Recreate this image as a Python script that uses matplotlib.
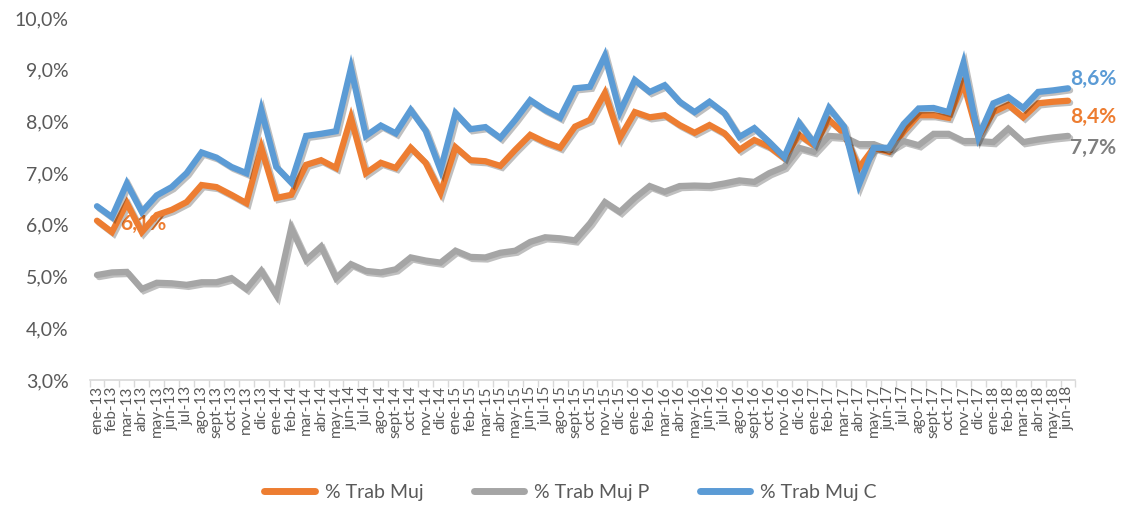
import matplotlib
matplotlib.use("Agg")
import matplotlib.pyplot as plt
import matplotlib.patheffects as pe
import numpy as np

months = ["ene", "feb", "mar", "abr", "may", "jun", "jul", "ago", "sept", "oct", "nov", "dic"]
years = ["13", "14", "15", "16", "17", "18"]
categories = [f"{m}-{y}" for y in years for m in months][:66]

trab_muj = [6.08, 5.86, 6.42, 5.86, 6.19, 6.29, 6.44, 6.77, 6.73, 6.58, 6.42, 7.49,
            6.52, 6.58, 7.16, 7.25, 7.10, 8.07, 7.00, 7.20, 7.10, 7.49, 7.20, 6.62,
            7.50, 7.25, 7.23, 7.14, 7.45, 7.74, 7.60, 7.49, 7.90, 8.03, 8.55, 7.68,
            8.18, 8.08, 8.12, 7.93, 7.78, 7.93, 7.77, 7.45, 7.64, 7.51, 7.29, 7.74,
            7.54, 8.03, 7.77, 7.10, 7.49, 7.41, 7.80, 8.12, 8.12, 8.07, 8.74, 7.70,
            8.18, 8.32, 8.08, 8.35, 8.38, 8.40]

trab_muj_p = [5.03, 5.08, 5.09, 4.76, 4.88, 4.87, 4.84, 4.89, 4.89, 4.97, 4.76, 5.11,
              4.64, 5.94, 5.32, 5.58, 4.97, 5.24, 5.11, 5.08, 5.14, 5.37, 5.31, 5.27,
              5.50, 5.38, 5.37, 5.46, 5.50, 5.67, 5.76, 5.74, 5.70, 6.03, 6.44, 6.25,
              6.52, 6.75, 6.64, 6.75, 6.76, 6.75, 6.80, 6.86, 6.83, 7.00, 7.12, 7.49,
              7.41, 7.72, 7.70, 7.56, 7.56, 7.45, 7.62, 7.54, 7.76, 7.76, 7.62, 7.62,
              7.60, 7.86, 7.60, 7.65, 7.69, 7.72]

trab_muj_c = [6.36, 6.15, 6.80, 6.25, 6.57, 6.73, 7.00, 7.40, 7.30, 7.12, 7.00, 8.22,
              7.12, 6.82, 7.72, 7.76, 7.81, 9.03, 7.72, 7.92, 7.77, 8.22, 7.82, 7.06,
              8.16, 7.85, 7.89, 7.68, 8.03, 8.41, 8.22, 8.07, 8.64, 8.67, 9.27, 8.18,
              8.80, 8.57, 8.70, 8.38, 8.18, 8.38, 8.16, 7.70, 7.87, 7.60, 7.31, 7.97,
              7.58, 8.26, 7.90, 6.77, 7.49, 7.49, 7.95, 8.25, 8.26, 8.18, 9.13, 7.70,
              8.35, 8.47, 8.26, 8.57, 8.60, 8.64]

series_names = ["% Trab Muj", "% Trab Muj P", "% Trab Muj C"]
colors = ["#ED7D31", "#A5A5A5", "#5B9BD5"]
label_colors = ["#ED7D31", "#7F7F7F", "#5B9BD5"]

plt.rcParams['font.family'] = ['Lato', 'DejaVu Sans']

fig = plt.figure(figsize=(11.23, 5.08), dpi=100)
ax = fig.add_axes([0.0797, 0.252, 0.878, 0.7126])

x = np.arange(len(categories))
shadow = [pe.SimpleLineShadow(offset=(1.5, -1.5), shadow_color="#000000", alpha=0.25),
          pe.Normal()]
lines = []
for vals, name, col in zip([trab_muj, trab_muj_p, trab_muj_c], series_names, colors):
    ln, = ax.plot(x, vals, color=col, lw=4.5, label=name, solid_joinstyle="miter",
                  solid_capstyle="round", path_effects=shadow)
    lines.append(ln)

ax.set_xlim(-0.5, len(categories) - 0.5)
ax.set_ylim(3, 10)
yt = np.arange(3, 10.01, 1)
ax.set_yticks(yt)
ax.set_yticklabels([f"{v:.1f}%".replace(".", ",") for v in yt],
                   fontsize=14, color="#595959")
ax.set_xticks(x)
ax.set_xticklabels(categories, rotation=90, fontsize=11, color="#595959")
ax.set_xticks(np.arange(-0.5, len(categories), 1), minor=True)
ax.tick_params(axis="x", which="major", length=0, pad=4)
ax.tick_params(axis="x", which="minor", length=5, color="#D9D9D9", width=1)
ax.tick_params(axis="y", length=0, pad=15)
for s in ["top", "right", "left"]:
    ax.spines[s].set_visible(False)
ax.spines["bottom"].set_color("#D9D9D9")
ax.spines["bottom"].set_linewidth(1.2)

# data labels
last = len(categories) - 1
for vals, col, dy in zip([trab_muj, trab_muj_p, trab_muj_c], label_colors, [-12, -9, 7]):
    ax.annotate(f"{vals[last]:.1f}%".replace(".", ","), (x[last], vals[last]),
                xytext=(1.5, dy), textcoords="offset points", ha="left", va="center",
                fontsize=15, fontweight="bold", color=col, annotation_clip=False)
ax.annotate(f"{trab_muj[0]:.1f}%".replace(".", ","), (x[0], trab_muj[0]),
            xytext=(17, -2), textcoords="offset points", ha="left", va="center",
            fontsize=15, fontweight="bold", color="#ED7D31", zorder=1)

leg = fig.legend(handles=lines, labels=series_names, loc="center",
                 bbox_to_anchor=(0.508, 0.03), ncol=3, frameon=False,
                 fontsize=14, handlelength=2.6, columnspacing=2.6, handletextpad=0.5)
for t in leg.get_texts():
    t.set_color("#595959")
for lh in leg.get_lines():
    lh.set_linewidth(5)
    lh.set_path_effects([])

fig.savefig("out.png", dpi=100, facecolor="white")
